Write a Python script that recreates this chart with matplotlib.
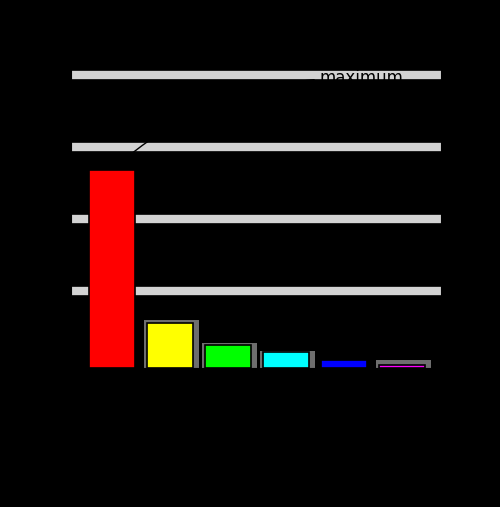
import matplotlib
matplotlib.use("Agg")
import matplotlib.pyplot as plt

# values (px scale -> data units)
categories = ["A", "B", "C", "D", "E", "F"]
values = [55.0, 12.5, 6.4, 4.4, 2.2, 0.8]
back_values = [0.0, 13.3, 7.0, 4.6, 0.0, 2.2]
bar_colors = ["#ff0000", "#ffff00", "#00ff00", "#00ffff", "#0000ff", "#ff00ff"]
ytick_values = [21.4, 41.4, 61.4, 81.4]

fig = plt.figure(figsize=(5, 5.07), dpi=100)
fig.patch.set_facecolor("black")
ax = fig.add_axes([71 / 500, 139 / 507, 370 / 500, 306 / 507])
ax.set_facecolor("black")

x = range(len(categories))
ax.bar([i + 0.03 for i in x], back_values, width=0.95, color="#6e6e6e", zorder=2)
ax.bar(x, values, width=0.8, color=bar_colors, edgecolor="black",
       linewidth=1.2, zorder=3)

ax.set_xlim(-0.71, 5.67)
ax.set_ylim(0, 85)
ax.set_yticks(ytick_values)
ax.set_yticklabels(["20", "40", "60", "80"])
ax.set_xticks(list(x))
ax.set_xticklabels(categories)
ax.grid(axis="y", color="#d3d3d3", linewidth=6, zorder=1)
ax.set_axisbelow(True)

ax.annotate("maximum", xy=(0, values[0]), xytext=(4.3, 80.5),
            ha="center", va="center", color="black", fontsize=12,
            arrowprops=dict(arrowstyle="-", color="black", lw=1,
                            connectionstyle="arc3,rad=0.2"))

ax.set_title("Values by category", color="black")
ax.set_ylabel("Value", color="black")

fig.savefig("out.png", dpi=100, facecolor="black")
